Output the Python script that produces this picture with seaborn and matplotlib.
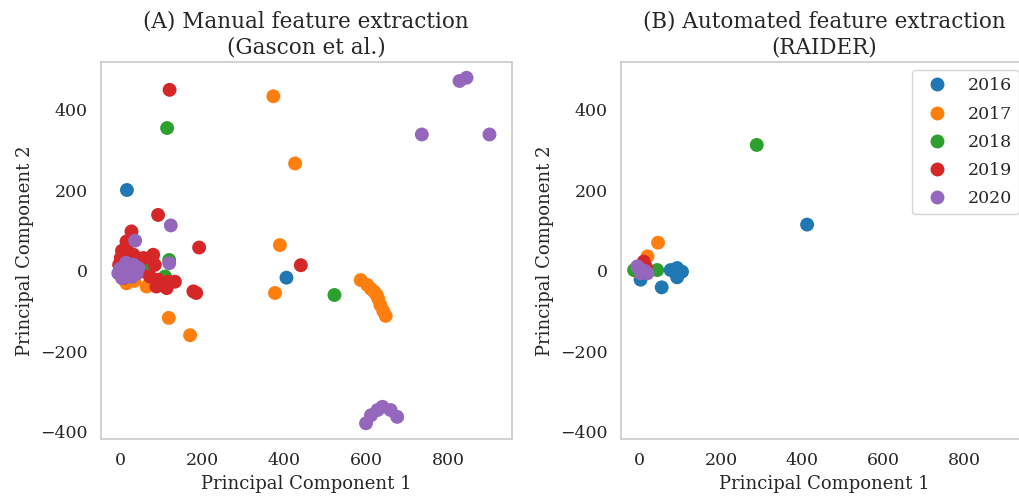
"""
PCA projections of malware samples, manual vs automated features.
Two scatter panels coloured by year.
"""

import matplotlib
matplotlib.use("Agg")
import matplotlib.pyplot as plt
import pandas as pd
import seaborn as sns

years = ["2016", "2017", "2018", "2019", "2020"]

# (A) manual feature extraction (Gascon et al.)
manual_x = [
    [17, 406, 5, 20, 69],
    [374, 427, 390, 378, 119, 171, 16, 65, 73, 10, 35,
     587, 603, 612, 620, 626, 630, 635, 642, 648],
    [115, 120, 110, 69, 523, 30],
    [121, 93, 193, 441, 28, 16, 16, 33, 2, -2, 57, 81, 85, 73, 93, 118,
     134, 114, 89, 179, 186, 49, 8, 20, 40, 5],
    [828, 845, 736, 901, 600, 612, 628, 640, 660, 676,
     124, 37, 120, 8, 33, 41, -4, 20, 45, 25, 10, 0, 15, 30, 5],
]
manual_y = [
    [201, -17, 0, -5, 8],
    [434, 267, 64, -55, -117, -160, -31, -39, 19, -20, -25,
     -23, -35, -45, -52, -60, -70, -85, -100, -112],
    [355, 27, -14, 2, -60, 5],
    [450, 139, 58, 14, 98, 73, 56, 40, 32, 15, 32, 40, 15, -14, -22, -27,
     -27, -43, -39, -51, -55, -2, -18, 20, 5, 50],
    [472, 480, 339, 339, -379, -359, -346, -338, -346, -363,
     113, 75, 19, 7, 15, -6, -6, -14, 7, 0, -10, 5, 20, -15, -18],
]

# (B) automated feature extraction (RAIDER)
auto_x = [
    [76, 92, 104, 92, 54, 2, 412],
    [45, 19, -10, 5],
    [43, -14, 288],
    [10, 0, 15],
    [7, -6, 19, 3, 12],
]
auto_y = [
    [2, 7, -2, -16, -41, -22, 115],
    [70, 36, 0, 10],
    [2, 2, 313],
    [23, 5, 10],
    [2, 11, -6, -6, 0],
]

titles = ["(A) Manual feature extraction\n(Gascon et al.)",
          "(B) Automated feature extraction\n(RAIDER)"]


def to_frame(xs, ys):
    parts = [pd.DataFrame({"pc1": x, "pc2": y, "year": yr})
             for yr, x, y in zip(years, xs, ys)]
    return pd.concat(parts, ignore_index=True)


sns.set_theme(style="whitegrid", font="serif")
plt.rcParams["font.family"] = ["DejaVu Serif"]

fig = plt.figure(figsize=(10.2, 4.97), dpi=100)
ax1 = fig.add_axes([0.0987, 0.1167, 0.4029, 0.7592])
ax2 = fig.add_axes([0.6085, 0.1167, 0.3990, 0.7592])

frames = [to_frame(manual_x, manual_y), to_frame(auto_x, auto_y)]

for i, (ax, df, title) in enumerate(zip([ax1, ax2], frames, titles)):
    sns.scatterplot(data=df, x="pc1", y="pc2", hue="year", hue_order=years,
                    palette="tab10", s=100, linewidth=0, alpha=1,
                    legend=(i == 1), ax=ax)
    ax.set_xlim(-47, 955)
    ax.set_ylim(-418, 520)
    ax.set_xticks([0, 200, 400, 600, 800])
    ax.set_yticks([-400, -200, 0, 200, 400])
    ax.grid(False)
    ax.tick_params(labelsize=12.5)
    ax.set_title(title, fontsize=15.5)
    ax.set_xlabel("Principal Component 1", fontsize=13)
    ax.set_ylabel("Principal Component 2", fontsize=13)

sns.move_legend(ax2, "upper right", title=None, fontsize=12.5,
                labelspacing=0.65)

fig.savefig("out.png", dpi=100)
